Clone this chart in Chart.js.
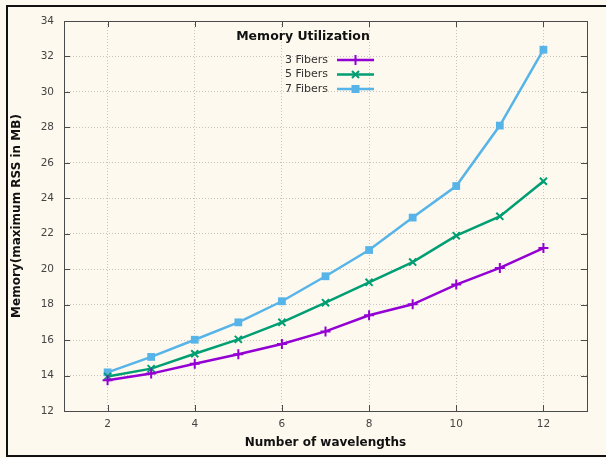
<!DOCTYPE html>
<html>
<head>
<meta charset="utf-8">
<script src="https://cdn.jsdelivr.net/npm/chart.js@4"></script>
<style>
  html, body { margin: 0; padding: 0; background: #fdf9ee; }
  #wrap { width: 606px; height: 458px; }
</style>
</head>
<body>
<div id="wrap"><canvas id="memChart" width="606" height="458"></canvas></div>
<script>
// data
const wavelengths = [2, 3, 4, 5, 6, 7, 8, 9, 10, 11, 12];
const fibers3 = [13.73, 14.11, 14.67, 15.2, 15.78, 16.49, 17.4, 18.02, 19.13, 20.07, 21.19];
const fibers5 = [13.95, 14.39, 15.23, 16.04, 17.0, 18.11, 19.26, 20.4, 21.89, 22.98, 24.96];
const fibers7 = [14.18, 15.05, 16.02, 17.0, 18.19, 19.6, 21.08, 22.91, 24.69, 28.1, 32.38];
const xTicks = [2, 4, 6, 8, 10, 12];
const yTicks = [12, 14, 16, 18, 20, 22, 24, 26, 28, 30, 32, 34];
const seriesNames = ["3 Fibers", "5 Fibers", "7 Fibers"];
const seriesColors = ["#9400d3", "#009e73", "#56b4e9"];
const seriesMarkers = ["cross", "crossRot", "rect"];

const toPoints = ys => ys.map((y, i) => ({ x: wavelengths[i], y: y }));
const FONT = "'DejaVu Sans', sans-serif";

function marker(ctx, type, x, y, color) {
  ctx.save();
  ctx.strokeStyle = color;
  ctx.fillStyle = color;
  ctx.lineWidth = 2;
  ctx.setLineDash([]);
  ctx.beginPath();
  if (type === "cross") {
    ctx.moveTo(x - 5, y); ctx.lineTo(x + 5, y);
    ctx.moveTo(x, y - 5); ctx.lineTo(x, y + 5);
    ctx.stroke();
  } else if (type === "crossRot") {
    ctx.moveTo(x - 3.5, y - 3.5); ctx.lineTo(x + 3.5, y + 3.5);
    ctx.moveTo(x + 3.5, y - 3.5); ctx.lineTo(x - 3.5, y + 3.5);
    ctx.stroke();
  } else {
    ctx.fillRect(x - 4, y - 4, 8, 8);
  }
  ctx.restore();
}

// background, outer frame, plot frame, inward ticks, key
const decorations = {
  id: "decorations",
  beforeDraw(chart) {
    const ctx = chart.ctx;
    ctx.save();
    ctx.fillStyle = "#fdf9ee";
    ctx.fillRect(0, 0, chart.width, chart.height);
    ctx.strokeStyle = "#111";
    ctx.lineWidth = 2;
    ctx.beginPath();
    ctx.moveTo(chart.width + 5, 6);
    ctx.lineTo(7, 6);
    ctx.lineTo(7, 456);
    ctx.lineTo(chart.width + 5, 456);
    ctx.stroke();
    ctx.restore();
  },
  afterDatasetsDraw(chart) {
    const ctx = chart.ctx;
    const a = chart.chartArea;
    const xs = chart.scales.x, ys = chart.scales.y;
    ctx.save();
    ctx.strokeStyle = "#4a4a4a";
    ctx.lineWidth = 1;
    ctx.strokeRect(Math.round(a.left) + 0.5, Math.round(a.top) + 0.5,
      Math.round(a.right - a.left), Math.round(a.bottom - a.top));
    ctx.beginPath();
    xTicks.forEach(v => {
      const px = Math.round(xs.getPixelForValue(v)) + 0.5;
      ctx.moveTo(px, a.bottom); ctx.lineTo(px, a.bottom - 6);
      ctx.moveTo(px, a.top); ctx.lineTo(px, a.top + 6);
    });
    yTicks.forEach(v => {
      const py = Math.round(ys.getPixelForValue(v)) + 0.5;
      ctx.moveTo(a.left, py); ctx.lineTo(a.left + 6, py);
      ctx.moveTo(a.right, py); ctx.lineTo(a.right - 6, py);
    });
    ctx.stroke();

    // key
    ctx.fillStyle = "#111";
    ctx.font = "bold 12.5px " + FONT;
    ctx.textAlign = "center";
    ctx.textBaseline = "middle";
    ctx.fillText("Memory Utilization", 303, 37);
    ctx.font = "11px " + FONT;
    ctx.textAlign = "right";
    ctx.fillStyle = "#333";
    seriesNames.forEach((name, i) => {
      const y = 60 + i * 14.5;
      ctx.fillText(name, 328, y);
      ctx.strokeStyle = seriesColors[i];
      ctx.lineWidth = 2.5;
      ctx.beginPath();
      ctx.moveTo(337, y); ctx.lineTo(374, y);
      ctx.stroke();
      marker(ctx, seriesMarkers[i], 355.5, y, seriesColors[i]);
    });
    ctx.restore();
  }
};

const ctx = document.getElementById("memChart");
new Chart(ctx, {
  type: "line",
  data: {
    datasets: [fibers3, fibers5, fibers7].map((vals, i) => ({
      label: seriesNames[i],
      data: toPoints(vals),
      borderColor: seriesColors[i],
      backgroundColor: seriesColors[i],
      borderWidth: 2.5,
      tension: 0,
      pointStyle: seriesMarkers[i],
      pointRadius: i === 2 ? 5.5 : 5,
      pointBorderWidth: i === 2 ? 0 : 2,
      pointBackgroundColor: seriesColors[i],
      pointBorderColor: seriesColors[i],
    })),
  },
  options: {
    responsive: false,
    animation: false,
    layout: { padding: { top: 21, right: 19, left: 0, bottom: 0 } },
    plugins: {
      legend: { display: false },
      tooltip: { enabled: false },
    },
    scales: {
      x: {
        type: "linear",
        min: 1,
        max: 13,
        afterBuildTicks: s => { s.ticks = xTicks.map(v => ({ value: v })); },
        afterFit: s => { s.height = 47; },
        grid: { color: "#c9c5bc", lineWidth: 1, drawTicks: false },
        border: { display: false, dash: [1, 2] },
        ticks: { padding: 7, color: "#444", font: { family: FONT, size: 10.5 } },
        title: {
          display: true,
          text: "Number of wavelengths",
          color: "#111",
          font: { family: FONT, size: 12, weight: "bold" },
          padding: { top: 0, bottom: 8 },
        },
      },
      y: {
        min: 12,
        max: 34,
        afterBuildTicks: s => { s.ticks = yTicks.map(v => ({ value: v })); },
        afterFit: s => { s.width = 64; },
        grid: { color: "#c9c5bc", lineWidth: 1, drawTicks: false },
        border: { display: false, dash: [1, 2] },
        ticks: { padding: 10, color: "#444", font: { family: FONT, size: 10.5 } },
        title: {
          display: true,
          text: "Memory(maximum RSS in MB)",
          color: "#111",
          font: { family: FONT, size: 12, weight: "bold" },
          padding: { top: 10, bottom: 0 },
        },
      },
    },
  },
  plugins: [decorations],
});
</script>
</body>
</html>
